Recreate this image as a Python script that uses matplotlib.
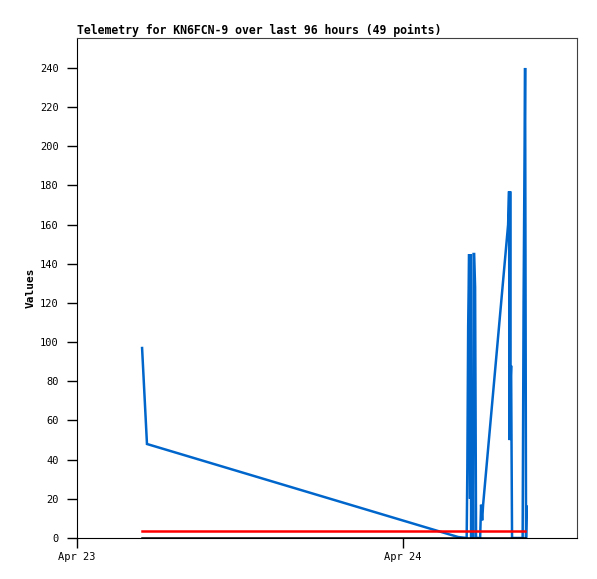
import datetime as dt
import matplotlib
matplotlib.use("Agg")
import matplotlib.pyplot as plt
import matplotlib.dates as mdates

# hours after Apr 23 00:00
blue_hours = [4.79, 5.15, 28.05, 28.68, 28.73, 28.79, 28.86, 28.93, 28.97, 29.01, 29.04,
              29.08, 29.15, 29.19, 29.23, 29.30, 29.37, 29.41, 29.67, 29.74, 29.82, 29.89,
              31.73, 31.80, 31.84, 31.88, 31.91, 31.95, 32.02, 32.80, 32.87, 32.98, 33.05, 33.10]
blue_vals = [97, 48, 0.5, 0, 36, 108, 145, 20, 145, 0, 60,
             70, 0, 145, 145, 128, 0, 0, 0, 17, 9, 17,
             160, 177, 50, 177, 80, 88, 0, 0, 121, 240, 0, 16]
red_hours = [4.79, 32.98]
red_vals = [3.7, 3.7]
black_hours = [4.79, 32.98]
black_vals = [0, 0]

start = dt.datetime(2024, 4, 23)
def to_dates(hours):
    return [start + dt.timedelta(hours=h) for h in hours]

fig = plt.figure(figsize=(5.97, 5.79), dpi=100)
ax = fig.add_axes([77/597, 41/579, 500/597, 500/579])

ax.plot(to_dates(blue_hours), blue_vals, color="#0066cc", lw=1.8, solid_joinstyle="miter")
ax.plot(to_dates(red_hours), red_vals, color="#ff0000", lw=1.8)
ax.plot(to_dates(black_hours), black_vals, color="#000000", lw=1.8)

ax.set_xlim(start, start + dt.timedelta(hours=36.8))
ax.set_ylim(0, 255.3)
ax.set_yticks(range(0, 241, 20))
ax.xaxis.set_major_locator(mdates.DayLocator())
ax.xaxis.set_major_formatter(mdates.DateFormatter("%b %d"))

mono = "DejaVu Sans Mono"
for lab in ax.get_xticklabels() + ax.get_yticklabels():
    lab.set_family(mono)
    lab.set_fontsize(7.5)
ax.tick_params(axis="both", direction="out", length=7, width=1, colors="black")
ax.tick_params(axis="y", pad=6)
ax.tick_params(axis="x", pad=3)
ax.tick_params(top=False, right=False)

for s in ["left", "bottom"]:
    ax.spines[s].set_color("black")
for s in ["top", "right"]:
    ax.spines[s].set_color("#404040")

ax.set_title("Telemetry for KN6FCN-9 over last 96 hours (49 points)", loc="left",
             family=mono, fontweight="bold", fontsize=8.3, pad=3)
ax.set_ylabel("Values", family=mono, fontweight="bold", fontsize=8, labelpad=3)

fig.savefig("out.png", dpi=100)
